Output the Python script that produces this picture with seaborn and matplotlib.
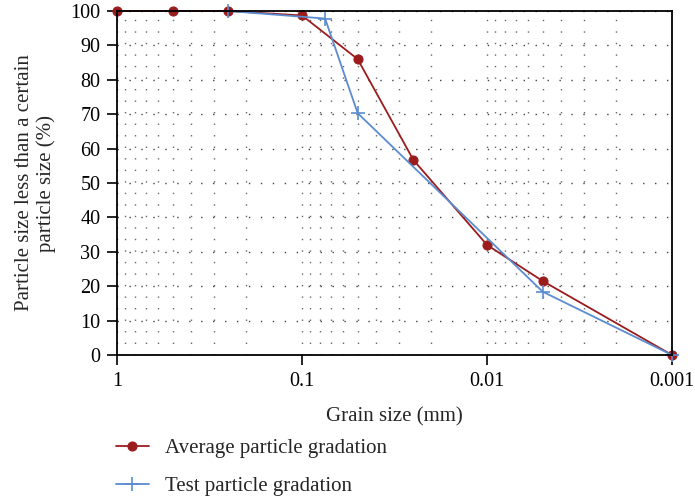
import seaborn as sns
import matplotlib.pyplot as plt
import matplotlib.ticker as mticker
import pandas as pd

# average gradation (grain size mm, percent passing)
avg_size = [1, 0.5, 0.25, 0.1, 0.05, 0.025, 0.01, 0.005, 0.001]
avg_pass = [100, 100, 100, 98.7, 86, 56.7, 32, 21.5, 0]

# test gradation
test_size = [0.25, 0.075, 0.05, 0.005, 0.001]
test_pass = [100, 97.8, 70.3, 18.4, 0]

x_ticks = [1, 0.1, 0.01, 0.001]
x_labels = ["1", "0.1", "0.01", "0.001"]

sns.set_style("ticks")
plt.rcParams['font.family'] = ['Liberation Serif', 'DejaVu Serif']

red = "#9b1c1c"
blue = "#5b8bd0"

fig = plt.figure(figsize=(6.95, 4.97), dpi=100)
ax = fig.add_axes([117/695, 1 - 355/497, 555/695, 344/497])

df_avg = pd.DataFrame({"size": avg_size, "pass": avg_pass})
df_test = pd.DataFrame({"size": test_size, "pass": test_pass})

sns.lineplot(data=df_avg, x="size", y="pass", ax=ax, color=red, lw=1.3, linestyle="-",
             marker="o", markersize=6.5, markeredgecolor=red, markeredgewidth=0.8,
             clip_on=False, label="Average particle gradation", sort=False)
sns.lineplot(data=df_test, x="size", y="pass", ax=ax, color=blue, lw=1.3, linestyle="-",
             marker="+", markersize=10, markeredgecolor=blue, markeredgewidth=1.2,
             clip_on=False, label="Test particle gradation", sort=False)

ax.set_xscale("log")
ax.set_xlim(1, 0.001)
ax.set_ylim(0, 100)
ax.set_xticks(x_ticks)
ax.set_xticklabels(x_labels)
ax.xaxis.set_minor_locator(mticker.LogLocator(base=10, subs=range(2, 10)))
ax.xaxis.set_minor_formatter(mticker.NullFormatter())
ax.set_yticks(range(0, 101, 10))

# dotted grid
ax.grid(which="major", axis="y", color="#444444", lw=1.0, linestyle=(0, (1, 7.6)))
ax.grid(which="both", axis="x", color="#666666", lw=1.0, linestyle=(0, (1, 7.3)))
ax.set_axisbelow(True)

ax.tick_params(axis="both", which="major", labelsize=14.5, length=7, width=1.2, colors="black", pad=5)
ax.tick_params(axis="x", which="minor", length=0)
for s in ax.spines.values():
    s.set_linewidth(1.3)
    s.set_color("black")

ax.set_xlabel("Grain size (mm)", fontsize=15, labelpad=12)
ax.set_ylabel("Particle size less than a certain\nparticle size (%)", fontsize=15, labelpad=10)

ax.legend(loc="upper left", bbox_to_anchor=(108/695, 1 - 430/497), bbox_transform=fig.transFigure,
          frameon=False, fontsize=15, handlelength=1.55, handletextpad=0.8, labelspacing=0.9,
          borderaxespad=0)

fig.savefig("out.png", dpi=100)
